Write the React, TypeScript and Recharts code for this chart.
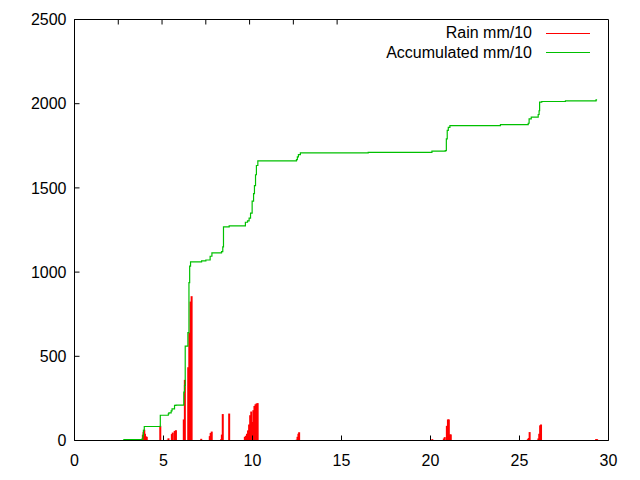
import { Bar, ComposedChart, Legend, Line, XAxis, YAxis } from "recharts";

// rain per sample (mm/10), day of month
const rainDays = [
  3.8, 3.84, 3.88, 3.92, 3.96, 4.0, 4.06, 4.82, 5.21, 5.28, 5.47, 5.52, 5.63, 5.7,
  6.14, 6.2, 6.39, 6.45, 6.52, 6.58, 7.12, 7.6, 7.65, 7.71, 8.24, 8.28, 8.33, 8.69,
  9.57, 9.63, 9.69, 9.75, 9.81, 9.87, 9.93, 9.99, 10.05, 10.11, 10.17, 10.23, 10.29,
  12.48, 12.53, 12.58, 12.62, 20.1, 20.75, 20.8, 20.92, 20.98, 21.03, 21.09, 21.14,
  25.47, 25.52, 25.57, 26.06, 26.11, 26.16, 26.21, 29.3, 29.36,
];
const rainValues = [
  8, 34, 50, 64, 40, 25, 22, 87, 4, 13, 38, 47, 57, 61,
  125, 360, 435, 640, 825, 857, 10, 26, 45, 53, 8, 35, 157, 160,
  22, 28, 40, 60, 95, 150, 172, 110, 180, 205, 215, 220, 222,
  5, 22, 40, 49, 8, 12, 20, 87, 125, 125, 36, 36,
  8, 15, 50, 12, 40, 90, 95, 8, 8,
];

// accumulated total (mm/10)
const accDays = [
  2.74, 3.8, 3.84, 3.87, 3.92, 4.82, 5.27, 5.3, 5.43, 5.48, 5.62, 5.7, 6.14, 6.18,
  6.22, 6.37, 6.43, 6.47, 6.52, 7.14, 7.38, 7.62, 7.72, 8.26, 8.33, 8.37, 8.69, 9.6,
  9.72, 9.81, 9.89, 9.98, 10.06, 10.11, 10.17, 10.22, 10.3, 12.47, 12.52, 12.58, 12.69,
  16.5, 20.08, 20.83, 20.89, 20.94, 21.0, 21.09, 23.93, 25.49, 25.54, 25.66, 26.05,
  26.1, 26.13, 26.25, 27.58, 29.3, 29.36,
];
const accValues = [
  5, 10, 30, 61, 83, 150, 158, 164, 176, 188, 208, 210, 287, 327,
  560, 641, 938, 1035, 1061, 1067, 1072, 1094, 1114, 1122, 1150, 1268, 1274, 1296,
  1304, 1320, 1350, 1422, 1466, 1514, 1578, 1633, 1661, 1668, 1684, 1698, 1708,
  1711, 1718, 1721, 1791, 1842, 1860, 1870, 1876, 1884, 1910, 1920, 1936,
  1958, 2009, 2013, 2017, 2023, 2023,
];

const xTicks = [0, 5, 10, 15, 20, 25, 30];
const yTicks = [0, 500, 1000, 1500, 2000, 2500];
const seriesNames = ["Rain mm/10", "Accumulated mm/10"];
const seriesColors = ["#ff0000", "#00c000"];

const rainRows = rainDays.map((day, i) => ({ day, rain: rainValues[i] }));
const accRows = accDays.map((day, i) => ({ day, acc: accValues[i] }));

const font = { fill: "#000", fontSize: 16, fontFamily: "Liberation Sans, Arial, sans-serif" };

// gnuplot impulses: thin filled sticks
function Impulse(props: any) {
  const { x, y, width, height } = props;
  if (height == null || height <= 0) return null;
  return <rect x={x + width / 2 - 1} y={y} width={2} height={height} fill={seriesColors[0]} />;
}

function KeyBox() {
  return (
    <svg width={640} height={70} style={{ display: "block" }}>
      {seriesNames.map((name, i) => (
        <g key={name}>
          <text x={532} y={38 + i * 19.5} textAnchor="end" {...font}>
            {name}
          </text>
          <line x1={546} x2={590} y1={33.5 + i * 19} y2={33.5 + i * 19} stroke={seriesColors[i]} />
        </g>
      ))}
    </svg>
  );
}

export default function App() {
  return (
    <div style={{ position: "absolute", left: 0, top: 0, width: 640, height: 480, background: "#fff" }}>
      <ComposedChart
        width={640}
        height={480}
        data={rainRows}
        margin={{ top: 9.5, right: 21.5, bottom: 9.5, left: 14.5 }}
      >
        <XAxis
          type="number"
          dataKey="day"
          domain={[0, 30]}
          ticks={xTicks}
          allowDataOverflow
          height={30}
          tickSize={-5}
          tickMargin={19}
          tick={font}
          axisLine={{ stroke: "#000" }}
          tickLine={{ stroke: "#000" }}
        />
        <XAxis
          xAxisId="top"
          orientation="top"
          type="number"
          domain={[0, 30]}
          ticks={xTicks}
          height={10}
          tickSize={-5}
          tickFormatter={() => ""}
          axisLine={{ stroke: "#000" }}
          tickLine={{ stroke: "#000" }}
        />
        <YAxis
          type="number"
          domain={[0, 2500]}
          ticks={yTicks}
          allowDataOverflow
          width={60}
          tickSize={-5}
          tickMargin={13}
          tick={font}
          axisLine={{ stroke: "#000" }}
          tickLine={{ stroke: "#000" }}
        />
        <YAxis
          yAxisId="right"
          orientation="right"
          type="number"
          domain={[0, 2500]}
          ticks={yTicks}
          width={10}
          tickSize={-5}
          tickFormatter={() => ""}
          axisLine={{ stroke: "#000" }}
          tickLine={{ stroke: "#000" }}
        />
        <Bar dataKey="rain" barSize={2} shape={Impulse} isAnimationActive={false} />
        <Line
          data={accRows}
          dataKey="acc"
          type="stepAfter"
          stroke={seriesColors[1]}
          strokeWidth={1.2}
          dot={false}
          activeDot={false}
          isAnimationActive={false}
        />
        <Legend
          layout="vertical"
          verticalAlign="middle"
          align="center"
          wrapperStyle={{ left: 0, top: 0, width: 640 }}
          content={() => <KeyBox />}
        />
      </ComposedChart>
    </div>
  );
}
